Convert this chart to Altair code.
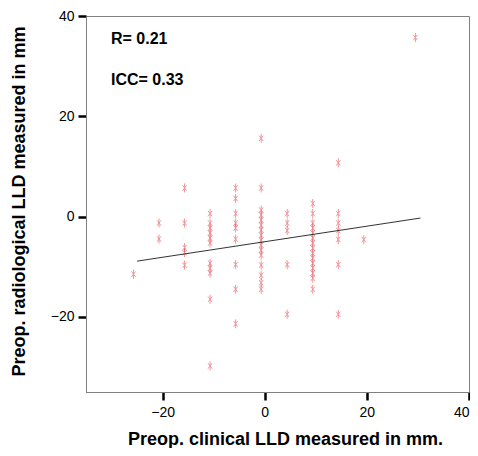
import altair as alt
import pandas as pd

# columns of clinical LLD (x) with radiological LLD values (y)
col_x = [-25.7, -20.7, -15.7, -10.7, -5.7, -0.7, 4.4, 9.4, 14.4, 19.4, 29.5]
col_y = [
    [-11.5],
    [-1.3, -4.5],
    [5.7, -1.3, -6.2, -7.2, -9.7],
    [0.6, -1.3, -2.3, -3.3, -4.3, -5.3, -9.3, -10.3, -11.3, -16.5, -29.8],
    [5.7, 3.6, 0.6, -1.3, -2.3, -4.5, -9.6, -14.5, -21.4],
    [15.6, 5.7, 1.3, 0.3, -0.7, -1.7, -2.7, -3.7, -4.7, -5.7, -6.7, -7.7,
     -9.7, -11.7, -13.2, -14.5],
    [0.6, -1.3, -2.8, -9.6, -19.5],
    [2.6, 0.6, -1.3, -2.3, -3.3, -4.3, -5.3, -6.3, -7.3, -8.3, -9.3, -10.3,
     -11.3, -12.3, -14.5],
    [10.7, 0.6, -1.3, -2.8, -4.6, -9.6, -19.5],
    [-4.6],
    [35.7],
]

fit_x = [-25.0, 30.5]
fit_y = [-8.9, -0.3]

notes = ["R= 0.21", "ICC= 0.33"]
note_x = [-30.1, -30.1]
note_y = [34.4, 26.3]

x_ticks = [-20, 0, 20, 40]
y_ticks = [-20, 0, 20, 40]

rows = []
for xv, ys in zip(col_x, col_y):
    for yv in ys:
        rows.append({"x": xv, "y": yv})
pts = pd.DataFrame(rows)
fit = pd.DataFrame({"x": fit_x, "y": fit_y})
txt = pd.DataFrame({"x": note_x, "y": note_y, "t": notes})

FONT = "Liberation Sans"

xs = alt.Scale(domain=[-35, 40], nice=False, zero=False)
ys = alt.Scale(domain=[-35, 40], nice=False, zero=False)

star = "M0,-1L0,1M-0.45,-0.6L0.45,0.6M0.45,-0.6L-0.45,0.6"

x_axis = alt.Axis(
    values=x_ticks, grid=False, tickSize=8, tickWidth=2.5, tickColor="black",
    domainColor="#808080", domainWidth=1, labelFontSize=14, labelFont=FONT,
    labelColor="black", labelPadding=5, labelFlush=True,
    title="Preop. clinical LLD measured in mm.",
    titleFont=FONT, titleFontSize=18, titleFontWeight="bold", titleColor="black",
    titleY=52, titleBaseline="alphabetic", titleX=199,
)
y_axis = alt.Axis(
    values=y_ticks, grid=False, tickSize=8, tickWidth=2.5, tickColor="black",
    domainColor="#808080", domainWidth=1, labelFontSize=14, labelFont=FONT,
    labelColor="black", labelPadding=4, labelFlush=False,
    title="Preop. radiological LLD measured in mm",
    titleFont=FONT, titleFontSize=18, titleFontWeight="bold", titleColor="black",
    titleX=-67, titleY=185, titleAngle=270, titleAlign="center",
    titleBaseline="middle",
)

points = alt.Chart(pts).mark_point(
    shape=star, size=81, filled=False, stroke="#e8505a", strokeWidth=1,
    opacity=0.6,
).encode(
    x=alt.X("x:Q", scale=xs, axis=x_axis),
    y=alt.Y("y:Q", scale=ys, axis=y_axis),
)

line = alt.Chart(fit).mark_line(color="#333333", strokeWidth=1).encode(
    x=alt.X("x:Q", scale=xs),
    y=alt.Y("y:Q", scale=ys),
)

labels = alt.Chart(txt).mark_text(
    align="left", baseline="alphabetic", font=FONT, fontSize=16,
    fontWeight="bold", color="black",
).encode(
    x=alt.X("x:Q", scale=xs),
    y=alt.Y("y:Q", scale=ys),
    text="t:N",
)

chart = alt.layer(points, line, labels).properties(
    width=383, height=376,
    autosize=alt.AutoSizeParams(type="none"),
    padding={"left": 78, "top": 8, "right": 1, "bottom": 56},
).configure_view(stroke="#808080", strokeWidth=1)

chart.save("out.html", embed_options={"renderer": "svg", "actions": False})
